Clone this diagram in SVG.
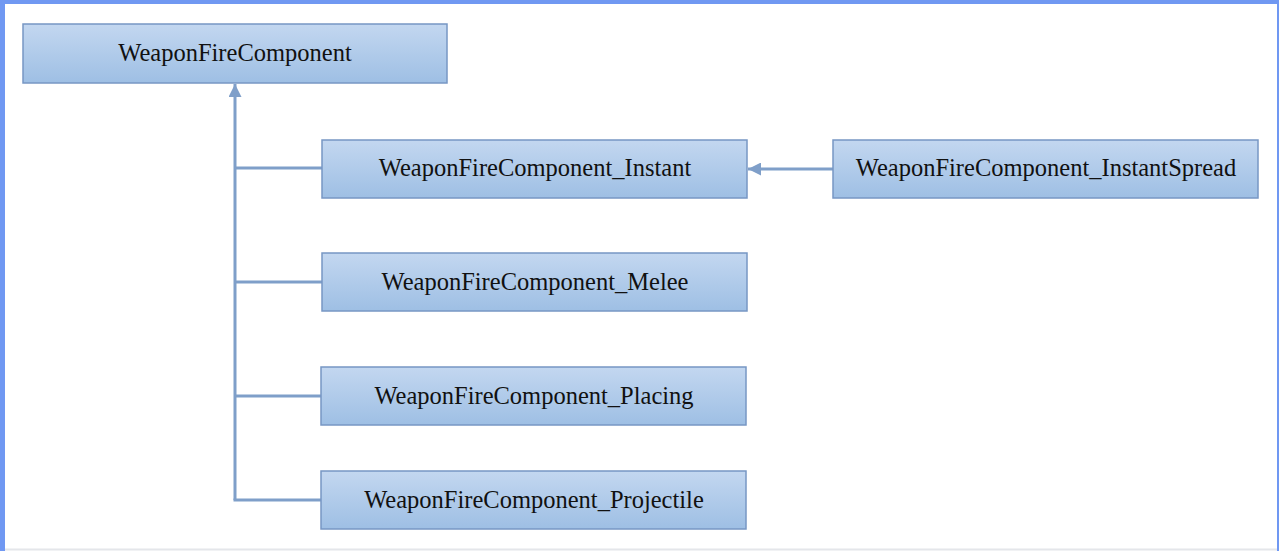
<svg xmlns="http://www.w3.org/2000/svg" width="1279" height="551" viewBox="0 0 1279 551">
<defs>
<linearGradient id="g" x1="0" y1="0" x2="0" y2="1">
<stop offset="0" stop-color="#c3d7f0"/>
<stop offset="1" stop-color="#9ebfe4"/>
</linearGradient>
<marker id="arr" viewBox="0 0 12 12" refX="12" refY="6" markerWidth="13" markerHeight="13" orient="auto" markerUnits="userSpaceOnUse">
<path d="M0,0 L12,6 L0,12 Z" fill="#7f9fc9"/>
</marker>
<style>
.box{fill:url(#g);stroke:#7797c4;stroke-width:1.5}
.lbl{font-family:"Liberation Serif","Times New Roman",serif;font-size:24.5px;fill:#111111;text-anchor:middle}
.c{fill:none;stroke:#7f9fc9;stroke-width:3}
</style>
</defs>
<rect x="0" y="0" width="1279" height="551" fill="#ffffff"/>
<rect x="0" y="0" width="5" height="551" fill="#7098f2"/>
<rect x="0" y="0" width="1279" height="4" fill="#7098f2"/>
<rect x="1277" y="0" width="2" height="551" fill="#7098f2"/>
<line x1="5" y1="549.5" x2="1277" y2="549.5" stroke="#e4e6ea" stroke-width="2"/>
<g id="connectors">
<path class="c" d="M235,500 L235,84" marker-end="url(#arr)"/>
<path class="c" d="M235,168 L322,168"/>
<path class="c" d="M235,282 L322,282"/>
<path class="c" d="M235,396 L321,396"/>
<path class="c" d="M233.5,500 L321,500"/>
<path class="c" d="M833,169 L748,169" marker-end="url(#arr)"/>
</g>
<g id="WeaponFireComponent">
<rect class="box" x="23" y="24" width="424" height="59"/>
<text class="lbl" x="235" y="61">WeaponFireComponent</text>
</g>
<g id="WeaponFireComponent_Instant">
<rect class="box" x="322" y="140" width="425" height="58"/>
<text class="lbl" x="535" y="176">WeaponFireComponent_Instant</text>
</g>
<g id="WeaponFireComponent_InstantSpread">
<rect class="box" x="833" y="140" width="425" height="58"/>
<text class="lbl" x="1046" y="176">WeaponFireComponent_InstantSpread</text>
</g>
<g id="WeaponFireComponent_Melee">
<rect class="box" x="322" y="253" width="425" height="58"/>
<text class="lbl" x="535" y="290">WeaponFireComponent_Melee</text>
</g>
<g id="WeaponFireComponent_Placing">
<rect class="box" x="321" y="367" width="425" height="58"/>
<text class="lbl" x="534" y="404">WeaponFireComponent_Placing</text>
</g>
<g id="WeaponFireComponent_Projectile">
<rect class="box" x="321" y="471" width="425" height="58"/>
<text class="lbl" x="534" y="508">WeaponFireComponent_Projectile</text>
</g>
</svg>
